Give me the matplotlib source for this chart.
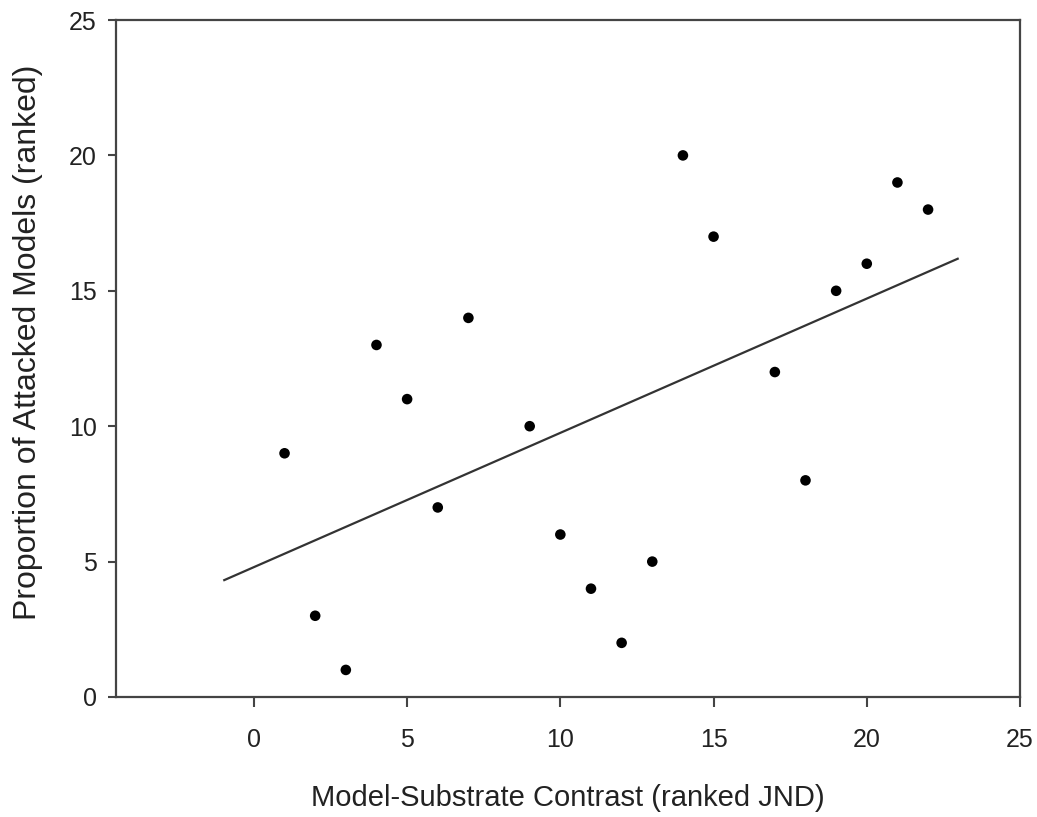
import matplotlib
matplotlib.use("Agg")
import matplotlib.pyplot as plt

x_rank = [1, 2, 3, 4, 5, 6, 7, 9, 10, 11, 12, 13, 14, 15, 17, 18, 19, 20, 21, 22]
y_rank = [9, 3, 1, 13, 11, 7, 14, 10, 6, 4, 2, 5, 20, 17, 12, 8, 15, 16, 19, 18]
fit_x = [-1, 23]
fit_y = [4.3, 16.2]
x_ticks = [0, 5, 10, 15, 20, 25]
y_ticks = [0, 5, 10, 15, 20, 25]

plt.rcParams["font.family"] = ["Liberation Sans", "DejaVu Sans"]

fig = plt.figure(figsize=(10.37, 8.17), dpi=100)
ax = fig.add_axes([116/1037, 1-697/817, (1020-116)/1037, (697-20)/817])

ax.plot(fit_x, fit_y, color="#333333", lw=1.6, solid_capstyle="butt")
ax.scatter(x_rank, y_rank, s=58, color="black", zorder=3, edgecolors="none")

ax.set_xlim(-4.5, 25)
ax.set_ylim(0, 25)
ax.set_xticks(x_ticks)
ax.set_yticks(y_ticks)
for s in ax.spines.values():
    s.set_linewidth(1.6)
    s.set_color("#444444")
ax.tick_params(axis="x", direction="out", length=7, width=1.5, color="#444444",
               pad=15, labelsize=18, labelcolor="#222222")
ax.tick_params(axis="y", direction="out", length=6, width=1.5, color="#444444",
               pad=8, labelsize=18, labelcolor="#222222")

ax.set_xlabel("Model-Substrate Contrast (ranked JND)", fontsize=21,
              color="#222222", labelpad=23)
fig.text(28/1037, 1-342/817, "Proportion of Attacked Models (ranked)", fontsize=23,
         color="#222222", rotation=90, ha="center", va="center")

fig.savefig("out.png", dpi=100)
